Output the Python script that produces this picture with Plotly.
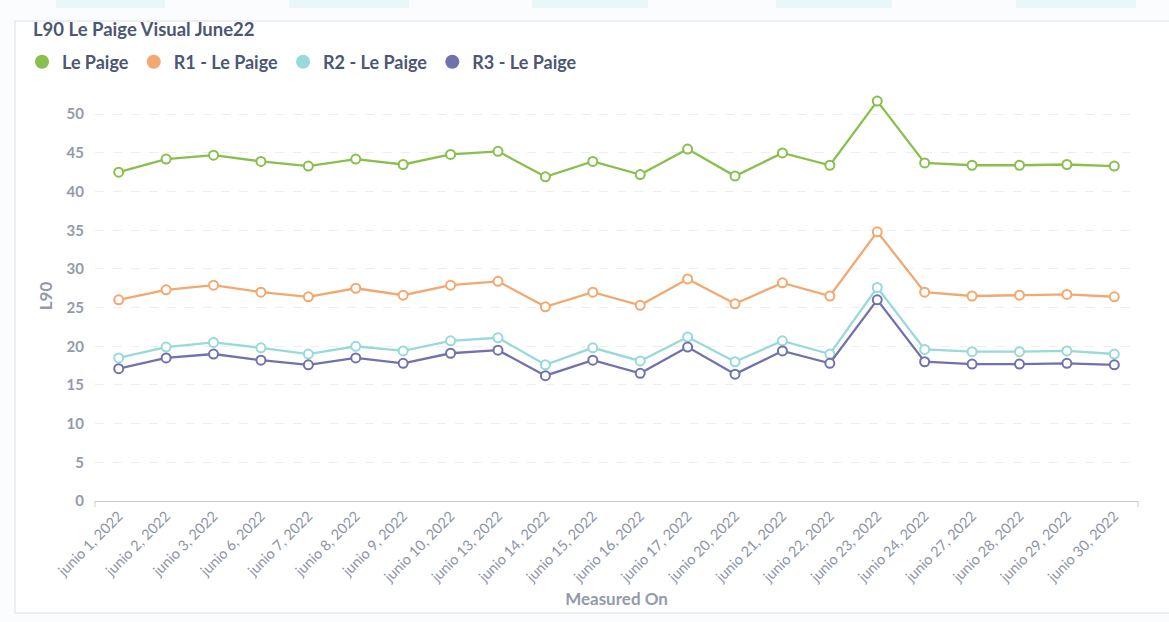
import plotly.graph_objects as go

dates = ["junio 1, 2022", "junio 2, 2022", "junio 3, 2022", "junio 6, 2022", "junio 7, 2022",
         "junio 8, 2022", "junio 9, 2022", "junio 10, 2022", "junio 13, 2022", "junio 14, 2022",
         "junio 15, 2022", "junio 16, 2022", "junio 17, 2022", "junio 20, 2022", "junio 21, 2022",
         "junio 22, 2022", "junio 23, 2022", "junio 24, 2022", "junio 27, 2022", "junio 28, 2022",
         "junio 29, 2022", "junio 30, 2022"]

le_paige = [42.5, 44.2, 44.7, 43.9, 43.3, 44.2, 43.5, 44.8, 45.2, 41.9, 43.9,
            42.2, 45.5, 42.0, 45.0, 43.4, 51.7, 43.7, 43.4, 43.4, 43.5, 43.3]
r1 = [26.0, 27.3, 27.9, 27.0, 26.4, 27.5, 26.6, 27.9, 28.4, 25.1, 27.0,
      25.3, 28.7, 25.5, 28.2, 26.5, 34.8, 27.0, 26.5, 26.6, 26.7, 26.4]
r2 = [18.5, 19.9, 20.5, 19.8, 19.0, 20.0, 19.4, 20.7, 21.1, 17.6, 19.8,
      18.1, 21.2, 18.0, 20.7, 19.0, 27.6, 19.6, 19.3, 19.3, 19.4, 19.0]
r3 = [17.1, 18.5, 19.0, 18.2, 17.6, 18.5, 17.8, 19.1, 19.5, 16.2, 18.2,
      16.5, 19.9, 16.4, 19.4, 17.8, 26.0, 18.0, 17.7, 17.7, 17.8, 17.6]

series = [
    ("Le Paige", le_paige, "#88bf4d"),
    ("R1 - Le Paige", r1, "#f2a86f"),
    ("R2 - Le Paige", r2, "#98d9d9"),
    ("R3 - Le Paige", r3, "#7172ad"),
]

FONT = "Lato"
GREY = "#949aab"
DARK = "#4c5773"

# plot area in page pixels, used to place the card outline
PL, PR, PT, PB = 95, 1138, 91, 501


def px_x(p):
    return (p - PL) / (PR - PL)


def px_y(p):
    return (PB - p) / (PB - PT)


fig = go.Figure()

for name, vals, color in series:
    fig.add_trace(go.Scatter(
        x=dates, y=vals, name=name, mode="lines+markers", showlegend=False,
        line=dict(color=color, width=2.3),
        marker=dict(symbol="circle", size=9, color="white",
                    line=dict(color=color, width=2)),
    ))

# legend entries shown as plain dots
for name, vals, color in series:
    fig.add_trace(go.Scatter(
        x=[None], y=[None], name=name, mode="markers",
        marker=dict(symbol="circle", size=14, color=color),
    ))

fig.update_xaxes(
    type="category",
    range=[-0.5, len(dates) - 0.5],
    tickangle=-45,
    tickfont=dict(family=FONT, size=14.5, color="#8e94a5"),
    showgrid=False,
    showline=True, linecolor="#c9ccd3", linewidth=1,
    ticks="",
    title=dict(text="Measured On", font=dict(family=FONT, size=17, color=GREY, weight="bold"), standoff=8),
    automargin=False,
)
fig.update_yaxes(
    range=[0, 53],
    dtick=5,
    tickfont=dict(family=FONT, size=15, color=GREY, weight="bold"),
    ticklabelstandoff=10,
    showgrid=True, gridcolor="#eceef2", griddash="dash", gridwidth=1,
    zeroline=False,
    title=dict(text="L90", font=dict(family=FONT, size=17, color=GREY, weight="bold"), standoff=9),
    automargin=False,
)

shapes = [
    # card outline
    dict(type="rect", xref="paper", yref="paper",
         x0=px_x(15), x1=px_x(1175), y0=px_y(613), y1=px_y(21),
         line=dict(color="#e8eaee", width=1.5), fillcolor="white", layer="below"),
    # end ticks of the x axis line
    dict(type="line", xref="paper", yref="paper", x0=0, x1=0, y0=0, y1=px_y(507),
         line=dict(color="#c9ccd3", width=1)),
    dict(type="line", xref="paper", yref="paper", x0=1, x1=1, y0=0, y1=px_y(507),
         line=dict(color="#c9ccd3", width=1)),
]
# faint edges of the cards above
for a, b in [(56, 165), (289, 409), (532, 648), (776, 892), (1016, 1136)]:
    shapes.append(dict(type="rect", xref="paper", yref="paper",
                       x0=px_x(a), x1=px_x(b), y0=px_y(8), y1=px_y(-2),
                       line=dict(width=0), fillcolor="#e9f7f9", layer="below"))

fig.update_layout(
    width=1169, height=622,
    paper_bgcolor="#fbfcfd", plot_bgcolor="rgba(0,0,0,0)",
    margin=dict(l=PL, r=1169 - PR, t=PT, b=622 - PB),
    font=dict(family=FONT),
    title=dict(
        text="L90 Le Paige Visual June22",
        font=dict(family=FONT, size=18.5, color=DARK, weight="bold"),
        xref="container", yref="container",
        x=33 / 1169, xanchor="left", y=1 - 30 / 622, yanchor="middle",
    ),
    legend=dict(
        orientation="h",
        xref="container", yref="container",
        x=22 / 1169, xanchor="left", y=1 - 62 / 622, yanchor="middle",
        font=dict(family=FONT, size=18, color=DARK, weight="bold"),
        itemwidth=30,
        bgcolor="rgba(0,0,0,0)",
    ),
    shapes=shapes,
)

fig.write_html("out.html", config={"displayModeBar": False},
               post_script="document.body.style.margin='0';")
